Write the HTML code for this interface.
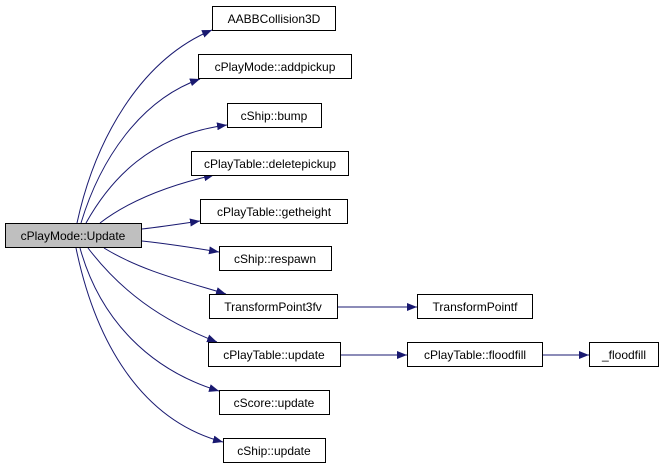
<!DOCTYPE html>
<html><head><style>
body{margin:0;background:#fff}
svg{display:block}
text{font-family:"Liberation Sans",sans-serif;font-size:12px;fill:#000}
</style></head><body>
<svg width="664" height="467" viewBox="0 0 664 467">
<defs><marker id="a" markerWidth="10" markerHeight="8" refX="10" refY="4" orient="auto" markerUnits="userSpaceOnUse"><path d="M0,0 L10,4 L0,8 Z" fill="#191970"/></marker></defs>
<g fill="none" stroke="#191970" stroke-width="1" marker-end="url(#a)">
<path d="M77,223 C95,140 140,60 212,30"/>
<path d="M81,223 C100,160 140,100 200,79"/>
<path d="M86,223 C110,180 150,135 227,125"/>
<path d="M100,223 C130,200 170,185 214,175"/>
<path d="M142,229 C160,227 180,224 200,221"/>
<path d="M142,241 C170,244 195,248 219,252"/>
<path d="M104,248 C140,270 180,280 226,294"/>
<path d="M88,248 C120,290 160,320 217,342"/>
<path d="M80,248 C100,320 150,370 219,391"/>
<path d="M76,248 C95,340 140,420 223,442"/>
<path d="M337,307 L417,307"/>
<path d="M340,355 L407,355"/>
<path d="M542,355 L589,355"/>
</g>
<g stroke="#000" stroke-width="1">
<rect x="5.5" y="223.5" width="136" height="24" fill="#bfbfbf"/>
<rect x="212.5" y="6.5" width="123" height="24" fill="#fff"/>
<rect x="198.5" y="54.5" width="153" height="24" fill="#fff"/>
<rect x="227.5" y="103.5" width="94" height="24" fill="#fff"/>
<rect x="191.5" y="151.5" width="157" height="24" fill="#fff"/>
<rect x="200.5" y="199.5" width="147" height="24" fill="#fff"/>
<rect x="219.5" y="246.5" width="112" height="24" fill="#fff"/>
<rect x="209.5" y="294.5" width="128" height="24" fill="#fff"/>
<rect x="417.5" y="294.5" width="115" height="24" fill="#fff"/>
<rect x="208.5" y="342.5" width="132" height="24" fill="#fff"/>
<rect x="407.5" y="342.5" width="135" height="24" fill="#fff"/>
<rect x="589.5" y="342.5" width="69" height="24" fill="#fff"/>
<rect x="219.5" y="390.5" width="110" height="24" fill="#fff"/>
<rect x="223.5" y="438.5" width="102" height="24" fill="#fff"/>
</g>
<g text-anchor="middle">
<text x="73" y="240">cPlayMode::Update</text>
<text x="274" y="23">AABBCollision3D</text>
<text x="275" y="71">cPlayMode::addpickup</text>
<text x="274" y="120">cShip::bump</text>
<text x="270" y="168">cPlayTable::deletepickup</text>
<text x="274" y="216">cPlayTable::getheight</text>
<text x="275" y="263">cShip::respawn</text>
<text x="273" y="311">TransformPoint3fv</text>
<text x="475" y="311">TransformPointf</text>
<text x="274" y="359">cPlayTable::update</text>
<text x="475" y="359">cPlayTable::floodfill</text>
<text x="624" y="359">_floodfill</text>
<text x="274" y="407">cScore::update</text>
<text x="274" y="455">cShip::update</text>
</g>
</svg>
</body></html>
